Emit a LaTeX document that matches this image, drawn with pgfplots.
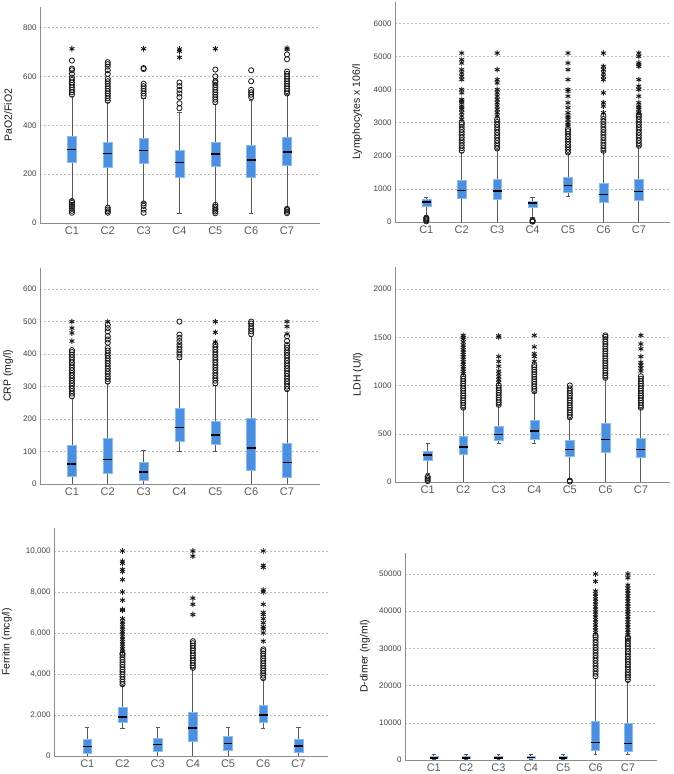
\documentclass[border=0pt]{standalone}
\usepackage{fontspec}
\setmainfont{Liberation Sans}
\usepackage{pgfplots}
\pgfplotsset{compat=1.18}
\usepgfplotslibrary{statistics}
\definecolor{boxblue}{HTML}{4A90E2}
\definecolor{boxedge}{HTML}{8BBBEF}
\definecolor{axisgray}{HTML}{8C8C8C}

\pgfplotsset{
  panel/.style={
    scale only axis, anchor=south west,
    axis x line*=bottom, axis y line*=left,
    axis line style={axisgray, line width=0.8pt},
    tick style={draw=none},
    ymin=0, ymajorgrids, grid style={black!25, dash pattern=on 2pt off 2pt},
    xtick={1,...,7}, xticklabels={C1,C2,C3,C4,C5,C6,C7},
    x tick label style={font=\fontsize{11}{12}\selectfont, text=black!65},
    y tick label style={font=\fontsize{8}{9}\selectfont, text=black!75},
    /pgf/number format/assume math mode=true,
    /pgf/number format/1000 sep={},
    scaled y ticks=false,
    ylabel style={font=\fontsize{10.5}{12}\selectfont, text=black!90, anchor=center},
    boxplot/draw direction=y,
    boxplot/box extend=0.25,
    boxplot/whisker extend=0.12,
    boxplot/every box/.style={draw=boxedge, fill=boxblue, line width=0.4pt},
    boxplot/every whisker/.style={draw=black!65, line width=0.8pt},
    boxplot/every median/.style={draw=black, line width=1.3pt},
  },
  circ/.style={only marks, mark=o, mark size=2.6pt, mark options={draw=black!90, line width=0.8pt}},
  star/.style={only marks, mark=asterisk, mark size=2.8pt, mark options={draw=black!90, line width=0.9pt}},
}
% position, lower whisker, Q1, median, Q3, upper whisker
\newcommand{\bx}[6]{\addplot[boxplot prepared={draw position=#1, lower whisker=#2, lower quartile=#3, median=#4, upper quartile=#5, upper whisker=#6}] coordinates {};}

\begin{document}
\begin{tikzpicture}
\useasboundingbox (0,0) rectangle (674pt,774pt);

% PaO2/FiO2
\begin{axis}[panel, at={(40pt,551pt)}, width=280pt, height=216pt,
  xmin=0.11, xmax=7.92, ymax=884, ytick={0,200,400,600,800},
  ylabel={PaO2/FiO2}, ylabel style={at={(axis description cs:-0.114,0.5)}}]
\bx{1}{95}{249}{302}{357}{520}
\bx{2}{70}{228}{283}{331}{495}
\bx{3}{85}{245}{297}{348}{510}
\bx{4}{40}{189}{249}{297}{454}
\bx{5}{78}{232}{282}{330}{485}
\bx{6}{40}{189}{258}{318}{500}
\bx{7}{62}{236}{290}{350}{525}
\addplot[circ] coordinates {(1,42)(1,50)(1,58)(1,66)(1,74)(1,82)(1,90)(1,525)(1,535)(1,545)(1,555)(1,565)(1,575)(1,585)(1,595)(1,610)(1,625)(1,632)(1,665)
 (2,42)(2,48)(2,55)(2,62)(2,500)(2,510)(2,520)(2,530)(2,540)(2,550)(2,560)(2,570)(2,580)(2,590)(2,610)(2,625)(2,640)(2,650)(2,658)
 (3,42)(3,55)(3,70)(3,80)(3,520)(3,530)(3,540)(3,550)(3,560)(3,570)(3,630)(3,634)
 (4,470)(4,490)(4,515)(4,530)(4,545)(4,560)(4,575)
 (5,40)(5,47)(5,54)(5,60)(5,67)(5,74)(5,495)(5,505)(5,515)(5,525)(5,535)(5,545)(5,555)(5,565)(5,575)(5,580)(5,600)(5,628)
 (6,515)(6,525)(6,535)(6,545)(6,580)(6,625)
 (7,40)(7,46)(7,52)(7,58)(7,530)(7,540)(7,550)(7,560)(7,570)(7,580)(7,590)(7,600)(7,610)(7,620)(7,670)(7,690)};
\addplot[star] coordinates {(1,713)(3,713)(4,678)(4,703)(4,712)(5,713)(7,710)(7,716)};
\end{axis}

% Lymphocytes
\begin{axis}[panel, at={(395pt,552pt)}, width=275pt, height=220pt,
  xmin=0.116, xmax=7.88, ymax=6643, ytick={0,1000,...,6000},
  ylabel={Lymphocytes x 106/l}, ylabel style={at={(axis description cs:-0.138,0.5)}}]
\bx{1}{180}{474}{605}{676}{756}
\bx{2}{0}{706}{958}{1260}{2100}
\bx{3}{0}{696}{938}{1290}{2180}
\bx{4}{130}{434}{575}{635}{746}
\bx{5}{776}{907}{1099}{1361}{2080}
\bx{6}{0}{585}{827}{1180}{2130}
\bx{7}{0}{645}{928}{1290}{2280}
\addplot[circ] coordinates {(1,20)(1,50)(1,80)(1,110)(1,130)
 (2,2150)(2,2230)(2,2310)(2,2390)(2,2470)(2,2550)(2,2630)(2,2710)(2,2790)(2,2870)(2,2950)(2,3000)
 (3,2220)(3,2300)(3,2380)(3,2460)(3,2540)(3,2620)(3,2700)(3,2780)(3,2860)(3,2940)(3,3020)(3,3100)
 (4,10)(4,30)(4,50)
 (5,2100)(5,2180)(5,2260)(5,2340)(5,2420)(5,2500)(5,2580)(5,2660)(5,2740)(5,2800)
 (6,2150)(6,2230)(6,2310)(6,2390)(6,2470)(6,2550)(6,2630)(6,2710)(6,2790)(6,2870)(6,2950)(6,3030)(6,3110)(6,3200)
 (7,2300)(7,2380)(7,2460)(7,2540)(7,2620)(7,2700)(7,2780)(7,2860)(7,2940)(7,3020)(7,3100)(7,3180)(7,3250)};
\addplot[star] coordinates {(2,3100)(2,3200)(2,3300)(2,3400)(2,3450)(2,3500)(2,3600)(2,3650)(2,3700)(2,3900)(2,4000)(2,4300)(2,4400)(2,4500)(2,4600)(2,4800)(2,4900)(2,5100)
 (3,3200)(3,3300)(3,3400)(3,3500)(3,3600)(3,3700)(3,3800)(3,3900)(3,4000)(3,4200)(3,4300)(3,4600)(3,5100)
 (5,2900)(5,2950)(5,3000)(5,3100)(5,3150)(5,3200)(5,3300)(5,3450)(5,3600)(5,3800)(5,3950)(5,4000)(5,4300)(5,4600)(5,4800)(5,5100)
 (6,3300)(6,3500)(6,3600)(6,3900)(6,4300)(6,4400)(6,4500)(6,4600)(6,4700)(6,5100)
 (7,3300)(7,3400)(7,3450)(7,3500)(7,3600)(7,3800)(7,4000)(7,4100)(7,4300)(7,4700)(7,4750)(7,4800)(7,5000)(7,5100)};
\end{axis}

% CRP
\begin{axis}[panel, at={(40pt,290pt)}, width=280pt, height=216pt,
  xmin=0.11, xmax=7.92, ymax=665, ytick={0,100,...,600},
  ylabel={CRP (mg/l)}, ylabel style={at={(axis description cs:-0.114,0.5)}}]
\bx{1}{0}{23}{62}{118}{265}
\bx{2}{0}{32}{76}{142}{310}
\bx{3}{0}{13}{37}{66}{102}
\bx{4}{101}{133}{173}{233}{385}
\bx{5}{101}{123}{151}{194}{305}
\bx{6}{0}{41}{111}{204}{455}
\bx{7}{0}{21}{67}{127}{288}
\addplot[circ] coordinates {(1,270)(1,278)(1,286)(1,294)(1,302)(1,310)(1,318)(1,326)(1,334)(1,342)(1,350)(1,358)(1,366)(1,374)(1,382)(1,390)(1,398)(1,406)(1,412)
 (2,315)(2,323)(2,331)(2,339)(2,347)(2,355)(2,363)(2,371)(2,379)(2,387)(2,395)(2,403)(2,411)(2,419)(2,435)(2,445)(2,455)(2,470)(2,480)(2,490)
 (4,390)(4,398)(4,406)(4,414)(4,422)(4,430)(4,440)(4,450)(4,460)(4,500)
 (5,310)(5,318)(5,326)(5,334)(5,342)(5,350)(5,358)(5,366)(5,374)(5,382)(5,390)(5,398)(5,406)(5,414)(5,422)(5,430)
 (6,462)(6,470)(6,478)(6,486)(6,494)(6,500)
 (7,292)(7,300)(7,308)(7,316)(7,324)(7,332)(7,340)(7,348)(7,356)(7,364)(7,372)(7,380)(7,388)(7,396)(7,404)(7,412)(7,420)(7,428)(7,440)(7,455)};
\addplot[star] coordinates {(1,440)(1,465)(1,480)(1,500)(2,500)(5,437)(5,467)(5,500)(7,462)(7,485)(7,500)};
\end{axis}

% LDH
\begin{axis}[panel, at={(395pt,292pt)}, width=275pt, height=215pt,
  xmin=0.08, xmax=7.82, ymax=2228, ytick={0,500,...,2000},
  ylabel={LDH (U/l)}, ylabel style={at={(axis description cs:-0.135,0.5)}}]
\bx{1}{90}{228}{279}{321}{400}
\bx{2}{0}{283}{362}{472}{760}
\bx{3}{396}{434}{493}{576}{790}
\bx{4}{396}{448}{528}{641}{930}
\bx{5}{30}{272}{334}{431}{660}
\bx{6}{0}{310}{441}{610}{1070}
\bx{7}{0}{255}{334}{455}{760}
\addplot[circ] coordinates {(1,10)(1,25)(1,40)(1,55)
 (2,770)(2,795)(2,820)(2,845)(2,870)(2,895)(2,920)(2,945)(2,970)(2,995)(2,1020)(2,1045)(2,1070)(2,1095)
 (3,800)(3,825)(3,850)(3,875)(3,900)(3,925)(3,950)(3,975)(3,1000)
 (4,940)(4,965)(4,990)(4,1015)(4,1040)(4,1065)(4,1090)(4,1115)(4,1140)(4,1165)(4,1190)(4,1210)
 (5,5)(5,15)(5,670)(5,695)(5,720)(5,745)(5,770)(5,795)(5,820)(5,845)(5,870)(5,895)(5,920)(5,945)(5,970)(5,1000)
 (6,1080)(6,1105)(6,1130)(6,1155)(6,1180)(6,1205)(6,1230)(6,1255)(6,1280)(6,1305)(6,1330)(6,1355)(6,1380)(6,1405)(6,1430)(6,1455)(6,1480)(6,1505)(6,1520)
 (7,770)(7,795)(7,820)(7,845)(7,870)(7,895)(7,920)(7,945)(7,970)(7,995)(7,1020)(7,1045)(7,1070)(7,1095)};
\addplot[star] coordinates {(2,1120)(2,1145)(2,1170)(2,1195)(2,1220)(2,1245)(2,1270)(2,1295)(2,1320)(2,1345)(2,1370)(2,1395)(2,1420)(2,1450)(2,1480)(2,1500)(2,1520)
 (3,1030)(3,1060)(3,1090)(3,1120)(3,1150)(3,1200)(3,1250)(3,1300)(3,1500)(3,1515)
 (4,1250)(4,1300)(4,1330)(4,1400)(4,1520)
 (7,1150)(7,1180)(7,1210)(7,1240)(7,1300)(7,1380)(7,1430)(7,1520)};
\end{axis}

% Ferritin
\begin{axis}[panel, at={(54pt,18pt)}, width=274pt, height=228pt,
  xmin=0.054, xmax=7.84, ymax=11122, ytick={0,2000,...,10000},
  /pgf/number format/1000 sep={,},
  ylabel={Ferritin (mcg/l)}, ylabel style={at={(axis description cs:-0.172,0.5)}}]
\bx{1}{0}{147}{472}{815}{1385}
\bx{2}{1368}{1629}{1906}{2362}{3450}
\bx{3}{0}{212}{554}{880}{1385}
\bx{4}{0}{717}{1368}{2134}{4250}
\bx{5}{0}{293}{619}{945}{1385}
\bx{6}{1368}{1629}{2004}{2460}{3750}
\bx{7}{0}{163}{489}{831}{1385}
\addplot[circ] coordinates {(2,3500)(2,3620)(2,3740)(2,3860)(2,3980)(2,4100)(2,4220)(2,4340)(2,4460)(2,4580)(2,4700)(2,4820)(2,4940)(2,5000)
 (4,4300)(4,4420)(4,4540)(4,4660)(4,4780)(4,4900)(4,5020)(4,5140)(4,5260)(4,5380)(4,5500)(4,5600)
 (6,3800)(6,3920)(6,4040)(6,4160)(6,4280)(6,4400)(6,4520)(6,4640)(6,4760)(6,4880)(6,5000)(6,5120)(6,5200)};
\addplot[star] coordinates {(2,5100)(2,5220)(2,5340)(2,5460)(2,5580)(2,5700)(2,5820)(2,5940)(2,6060)(2,6180)(2,6300)(2,6420)(2,6540)(2,6700)(2,7100)(2,7150)(2,7600)(2,8000)(2,8600)(2,9000)(2,9100)(2,9400)(2,9500)(2,10000)
 (4,6900)(4,7400)(4,7700)(4,9750)(4,10000)
 (6,5600)(6,6000)(6,6200)(6,6300)(6,6500)(6,6700)(6,6900)(6,7000)(6,7400)(6,8000)(6,8100)(6,9200)(6,9300)(6,10000)};
\end{axis}

% D-dimer
\begin{axis}[panel, at={(405pt,14pt)}, width=252pt, height=207pt,
  xmin=0.11, xmax=7.9, ymax=55645, ytick={0,10000,...,50000},
  ylabel={D-dimer (ng/ml)}, ylabel style={at={(axis description cs:-0.159,0.5)}}]
\bx{1}{150}{380}{560}{900}{1530}
\bx{2}{150}{380}{560}{900}{1530}
\bx{3}{150}{380}{560}{900}{1530}
\bx{4}{150}{380}{600}{950}{1530}
\bx{5}{150}{380}{560}{900}{1530}
\bx{6}{1523}{2509}{4750}{10300}{22000}
\bx{7}{1523}{2420}{4480}{9856}{21000}
\addplot[circ] coordinates {(6,22500)(6,23200)(6,23900)(6,24600)(6,25300)(6,26000)(6,26700)(6,27400)(6,28100)(6,28800)(6,29500)(6,30200)(6,30900)(6,31600)(6,32300)(6,33000)(6,33500)
 (7,21500)(7,22200)(7,22900)(7,23600)(7,24300)(7,25000)(7,25700)(7,26400)(7,27100)(7,27800)(7,28500)(7,29200)(7,29900)(7,30600)(7,31300)(7,32000)(7,32700)(7,33000)};
\addplot[star] coordinates {(6,34200)(6,34900)(6,35600)(6,36300)(6,37000)(6,37700)(6,38400)(6,39100)(6,39800)(6,40500)(6,41200)(6,41900)(6,42600)(6,43300)(6,44000)(6,44700)(6,45400)(6,48000)(6,50000)
 (7,33600)(7,34300)(7,35000)(7,35700)(7,36400)(7,37100)(7,37800)(7,38500)(7,39200)(7,39900)(7,40600)(7,41300)(7,42000)(7,42700)(7,43400)(7,44100)(7,44800)(7,45500)(7,46200)(7,47000)(7,49000)(7,50000)};
\end{axis}
\end{tikzpicture}
\end{document}
